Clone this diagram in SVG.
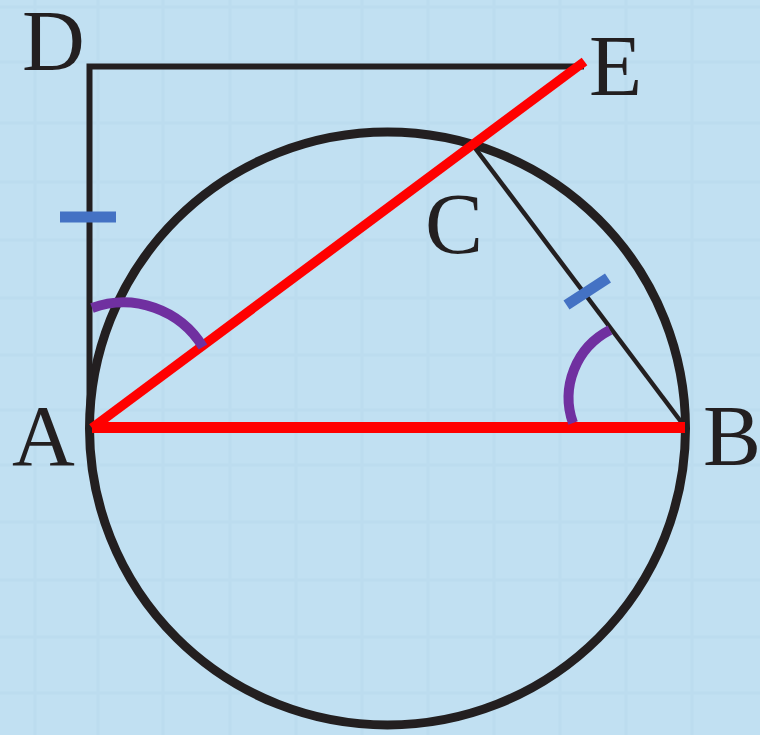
<svg xmlns="http://www.w3.org/2000/svg" width="760" height="735" viewBox="0 0 760 735">
  <style>
    .lbl { font-family: "Liberation Serif", "Times New Roman", serif; font-size: 87px; fill: #231f20; }
    .blk { fill: none; stroke: #231f20; }
    .red { fill: none; stroke: #ff0000; stroke-linecap: butt; }
    .tick { fill: none; stroke: #4472c4; stroke-width: 11; stroke-linecap: butt; }
    .ang { fill: none; stroke: #7030a0; stroke-width: 10; stroke-linecap: butt; }
    .grid { stroke: #b3d5ea; stroke-width: 3; opacity: 0.35; }
  </style>
  <rect x="0" y="0" width="760" height="735" fill="#c1e0f2"/>
  <g id="grid" class="grid">
    <line x1="35" y1="0" x2="35" y2="735"/>
    <line x1="98" y1="0" x2="98" y2="735"/>
    <line x1="163" y1="0" x2="163" y2="735"/>
    <line x1="230" y1="0" x2="230" y2="735"/>
    <line x1="296" y1="0" x2="296" y2="735"/>
    <line x1="362" y1="0" x2="362" y2="735"/>
    <line x1="428" y1="0" x2="428" y2="735"/>
    <line x1="494" y1="0" x2="494" y2="735"/>
    <line x1="560" y1="0" x2="560" y2="735"/>
    <line x1="626" y1="0" x2="626" y2="735"/>
    <line x1="692" y1="0" x2="692" y2="735"/>
    <line x1="0" y1="7" x2="760" y2="7"/>
    <line x1="0" y1="62" x2="760" y2="62"/>
    <line x1="0" y1="123" x2="760" y2="123"/>
    <line x1="0" y1="182" x2="760" y2="182"/>
    <line x1="0" y1="240" x2="760" y2="240"/>
    <line x1="0" y1="298" x2="760" y2="298"/>
    <line x1="0" y1="355" x2="760" y2="355"/>
    <line x1="0" y1="410" x2="760" y2="410"/>
    <line x1="0" y1="465" x2="760" y2="465"/>
    <line x1="0" y1="522" x2="760" y2="522"/>
    <line x1="0" y1="580" x2="760" y2="580"/>
    <line x1="0" y1="637" x2="760" y2="637"/>
    <line x1="0" y1="693" x2="760" y2="693"/>
  </g>
  <g id="circle">
    <ellipse class="blk" cx="387.5" cy="428.5" rx="298" ry="296.5" stroke-width="9"/>
  </g>
  <g id="connectors">
    <path id="DA-DE" class="blk" d="M89.5 428 V66.5 H584" stroke-width="6" stroke-linejoin="miter"/>
    <line id="CB" class="blk" x1="475" y1="148" x2="685" y2="427" stroke-width="4.5"/>
    <line id="AE" class="red" x1="92" y1="428" x2="584.5" y2="61.5" stroke-width="9.5"/>
    <line id="AB" class="red" x1="92" y1="427.5" x2="685" y2="427.5" stroke-width="11"/>
  </g>
  <g id="marks">
    <line class="tick" x1="60" y1="217" x2="116" y2="217"/>
    <line class="tick" x1="566.5" y1="305" x2="608" y2="278"/>
    <path class="ang" d="M92 308 A93 93 0 0 1 203 347"/>
    <path class="ang" d="M573 423 A76 76 0 0 1 610 330"/>
  </g>
  <g id="labels">
    <text id="D" class="lbl" x="22" y="70">D</text>
    <text id="E" class="lbl" x="589" y="95">E</text>
    <text id="C" class="lbl" x="425" y="253">C</text>
    <text id="A" class="lbl" x="12" y="465">A</text>
    <text id="B" class="lbl" x="703" y="465">B</text>
  </g>
</svg>
